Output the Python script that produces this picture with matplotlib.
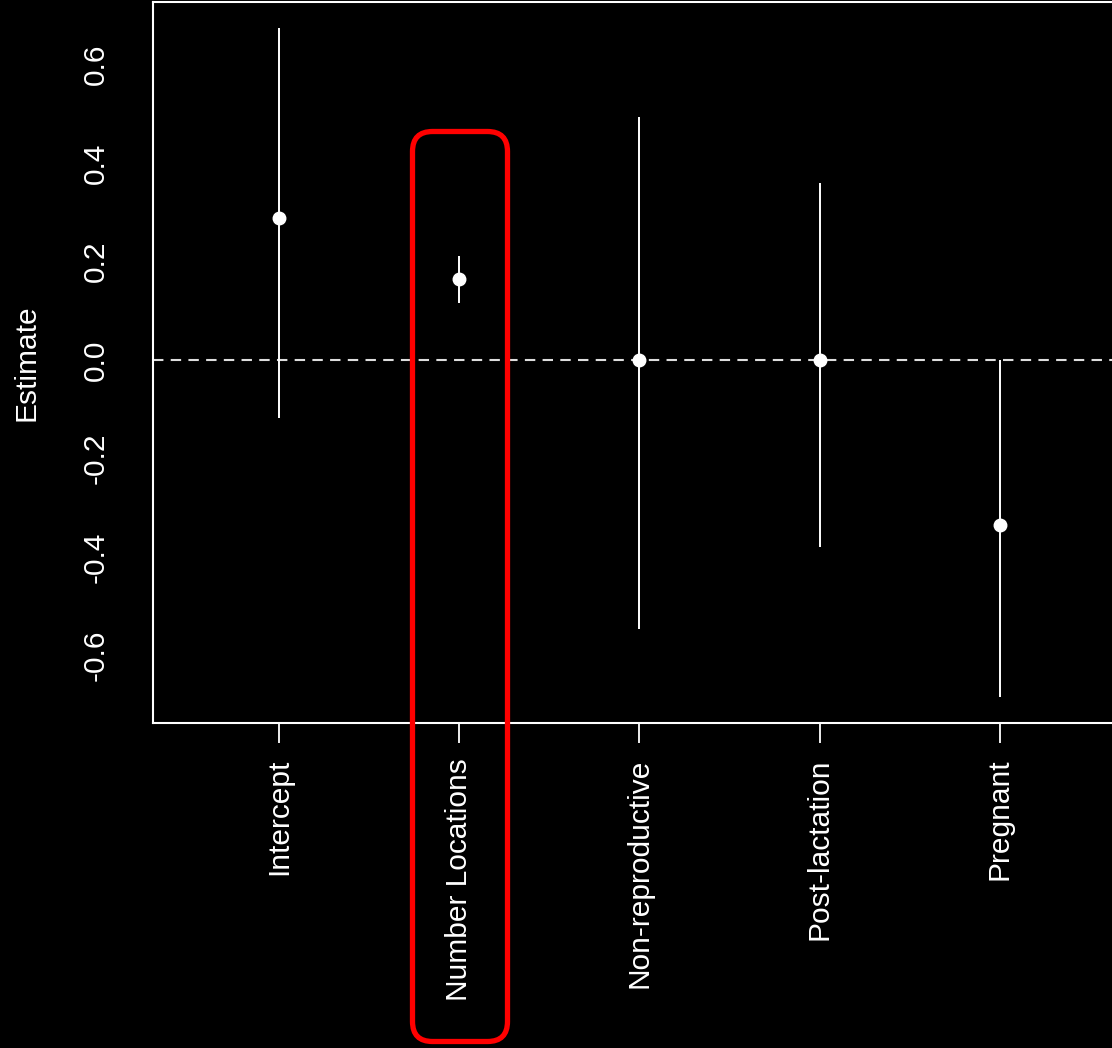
import matplotlib.pyplot as plt
from matplotlib.patches import FancyBboxPatch

# model coefficients with interval bounds
terms = ['Intercept', 'Number Locations', 'Non-reproductive', 'Post-lactation', 'Pregnant']
estimate = [0.288, 0.164, 0.0, 0.0, -0.335]
lower = [-0.118, 0.116, -0.546, -0.380, -0.684]
upper = [0.674, 0.212, 0.493, 0.359, 0.0]
yticks = [-0.6, -0.4, -0.2, 0.0, 0.2, 0.4, 0.6]

plt.rcParams['font.family'] = ['Liberation Sans', 'DejaVu Sans']

W, H = 1112, 1048
fig = plt.figure(figsize=(W / 100, H / 100), dpi=100, facecolor='black')

# axes box in pixel terms; right side runs past the figure edge
left_px, right_px, top_px, bottom_px = 152.8, 1126, 2, 723
ax = fig.add_axes([left_px / W, (H - bottom_px) / H,
                   (right_px - left_px) / W, (bottom_px - top_px) / H])
ax.set_facecolor('black')

x = list(range(1, len(terms) + 1))
ax.vlines(x, lower, upper, color='white', lw=1.4, zorder=2)
ax.plot(x, estimate, 'o', color='white', ms=9, zorder=3)
ax.axhline(0, color='#dddddd', lw=1.5, ls=(0, (5, 3.5)), zorder=1)

ax.set_xlim(0.3, 5.7)
ax.set_ylim(-0.737, 0.727)

ax.set_xticks(x)
ax.set_xticklabels(terms, rotation=90, va='top')
ax.set_yticks(yticks)
ax.set_yticklabels(['%.1f' % v for v in yticks], rotation=90, va='center')

ax.tick_params(axis='x', colors='white', length=14.5, width=1.3, pad=11, labelsize=21.5)
ax.tick_params(axis='y', colors='white', length=0, pad=31, labelsize=21.5)
ax.set_ylabel('Estimate', color='white', fontsize=21.5, labelpad=30)

for side in ['left', 'top', 'bottom', 'right']:
    ax.spines[side].set_color('white')
    ax.spines[side].set_linewidth(1.5)

# overlay in pixel units for the highlight box
ov = fig.add_axes([0, 0, 1, 1], facecolor='none')
ov.set_xlim(0, W)
ov.set_ylim(H, 0)
ov.axis('off')
box = FancyBboxPatch((412.5, 131.5), 95, 910, boxstyle='round,pad=0,rounding_size=20',
                     fill=False, ec='#ff0000', lw=3.8)
ov.add_patch(box)

fig.savefig('out.png', dpi=100, facecolor='black')
